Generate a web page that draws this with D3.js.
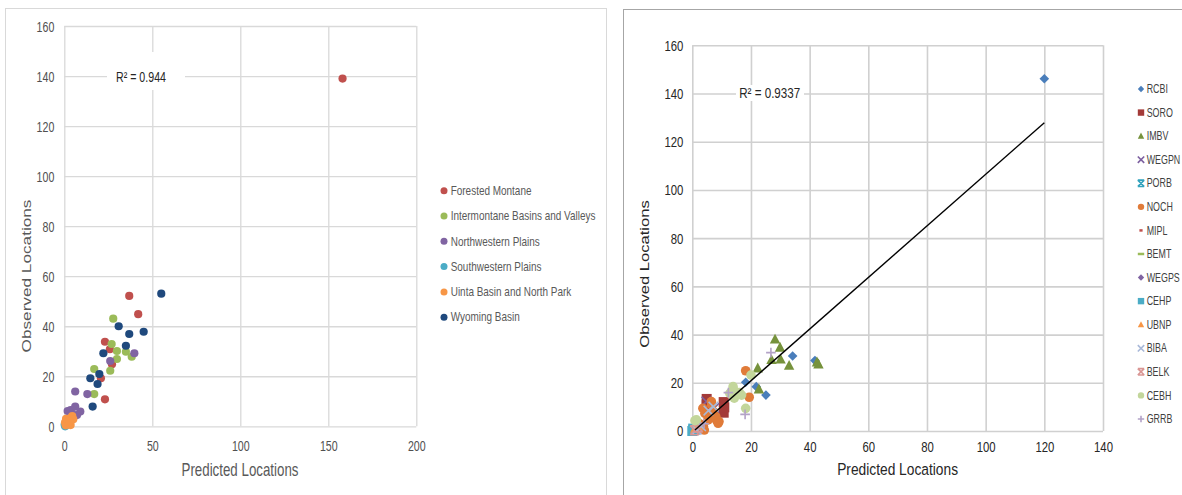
<!DOCTYPE html>
<html>
<head>
<meta charset="utf-8">
<script src="https://cdn.jsdelivr.net/npm/d3@7"></script>
<style>
  html, body { margin: 0; padding: 0; background: #fff; }
  svg { display: block; font-family: "Liberation Sans", Arial, sans-serif; }
</style>
</head>
<body>
<svg id="chart" width="1182" height="495"></svg>
<script>
// ---------------- LEFT CHART DATA ----------------
const leftXTicks = [0, 50, 100, 150, 200];
const leftYTicks = [0, 20, 40, 60, 80, 100, 120, 140, 160];
const leftSeriesNames = ["Forested Montane", "Intermontane Basins and Valleys", "Northwestern Plains",
                         "Southwestern Plains", "Uinta Basin and North Park", "Wyoming Basin"];
const leftColors = ["#c0504d", "#9bbb59", "#8064a2", "#4bacc6", "#f79646", "#1f497d"];
const forestedX = [158.1, 36.9, 42.0, 23.1, 25.9, 27.1, 20.8, 23.1, 2.0, 1.0];
const forestedY = [139.0, 52.1, 44.8, 33.8, 30.8, 24.8, 19.2, 10.8, 1.5, 0.5];
const intermontaneX = [27.8, 26.9, 29.9, 35.0, 29.9, 38.3, 26.1, 17.0, 17.0, 1.5];
const intermontaneY = [43.0, 32.9, 30.1, 29.8, 26.9, 27.8, 22.2, 22.9, 12.9, 1.0];
const northwesternX = [39.8, 26.1, 6.2, 13.1, 1.9, 6.2, 9.1, 7.2, 3.6, 4.5];
const northwesternY = [29.2, 26.1, 13.9, 12.9, 6.1, 7.9, 5.9, 4.5, 6.5, 5.0];
const southwesternX = [0.5, 0.2];
const southwesternY = [0.0, 0.6];
const uintaX = [4.5, 3.2, 1.3, 0.4, 2.3, 3.6, 0.8, 5.1, 1.0, 2.8];
const uintaY = [4.1, 3.2, 2.3, 1.5, 1.2, 0.5, 0.4, 2.8, 3.0, 2.0];
const wyomingX = [55.1, 30.9, 36.9, 45.1, 35.0, 22.2, 19.9, 14.8, 18.9, 16.1];
const wyomingY = [53.0, 40.0, 36.9, 37.8, 32.2, 29.2, 20.9, 19.2, 16.9, 7.9];
const leftSeriesX = [forestedX, intermontaneX, northwesternX, southwesternX, uintaX, wyomingX];
const leftSeriesY = [forestedY, intermontaneY, northwesternY, southwesternY, uintaY, wyomingY];
const leftR2 = "R\u00b2 = 0.944";

// ---------------- RIGHT CHART DATA ----------------
const rightXTicks = [0, 20, 40, 60, 80, 100, 120, 140];
const rightYTicks = [0, 20, 40, 60, 80, 100, 120, 140, 160];
const rightSeriesNames = ["RCBI", "SORO", "IMBV", "WEGPN", "PORB", "NOCH", "MIPL", "BEMT",
                          "WEGPS", "CEHP", "UBNP", "BIBA", "BELK", "CEBH", "GRRB"];
const rightShapes = ["diamond", "square", "triangle", "x", "star", "circle", "shortdash", "dash",
                     "diamond", "square", "triangle", "x", "star", "circle", "plus"];
const rightColors = ["#4a7ebb", "#a33a38", "#76923c", "#7d60a0", "#31a2bd", "#e07b39", "#c0504d", "#9bbb59",
                     "#8064a2", "#4bacc6", "#f79646", "#a9b9d9", "#d99694", "#c3d69b", "#b3a2c7"];
const rcbiX = [120, 34.2, 41.8, 18.2, 21.8, 25.1, 2.0, 1.0];
const rcbiY = [146.1, 31.1, 29.2, 20.2, 18.4, 14.9, 1.0, 0.0];
const soroX = [4.9, 4.9, 10.7, 10.7, 10.9];
const soroY = [13.3, 11.0, 12.0, 7.6, 9.8];
const imbvX = [28.2, 29.9, 27.0, 30.1, 33.0, 43.0, 22.3, 22.7, 42.5];
const imbvY = [38.0, 34.6, 29.5, 29.7, 27.1, 27.7, 26.0, 17.3, 28.5];
const wegpnX = [4.8, 7.5, 2.5];
const wegpnY = [12.2, 9.5, 1.5];
const porbX = [0.2, 1.0];
const porbY = [0.3, 0.6];
const nochX = [18.2, 19.4, 9.1, 4.3, 3.8, 5.5, 7.2, 6.6, 4.1, 2.5, 8.0, 3.6, 6.5, 7.1, 5.4, 8.2, 8.8, 1.4];
const nochY = [25.0, 14.0, 3.9, 7.3, 1.8, 5.3, 8.0, 10.8, 0.4, 3.0, 6.0, 9.4, 12.2, 7.3, 4.6, 4.6, 3.2, 1.8];
const miplX = [3.0];
const miplY = [2.0];
const bemtX = [2.0];
const bemtY = [1.0];
const wegpsX = [0.5, 1.5];
const wegpsY = [0.5, 0.0];
const cehpX = [0.0, 0.3];
const cehpY = [0.0, 1.0];
const ubnpX = [1.0, 2.5];
const ubnpY = [1.0, 2.0];
const bibaX = [7.2, 3.0, 1.5, 5.5];
const bibaY = [10.1, 2.0, 0.5, 8.5];
const belkX = [0.8, 2.0];
const belkY = [0.3, 1.5];
const cebhX = [14.0, 14.3, 16.8, 18.2, 20.0, 12.8, 0.9, 13.5, 16.0, 1.4, 13.9];
const cebhY = [17.3, 13.6, 14.9, 9.4, 23.2, 15.6, 4.3, 16.5, 16.0, 4.6, 18.4];
const grrbX = [26.8, 12.3, 18.0, 4.0];
const grrbY = [32.5, 15.9, 6.9, 3.0];
const rightSeriesX = [rcbiX, soroX, imbvX, wegpnX, porbX, nochX, miplX, bemtX, wegpsX, cehpX, ubnpX, bibaX, belkX, cebhX, grrbX];
const rightSeriesY = [rcbiY, soroY, imbvY, wegpnY, porbY, nochY, miplY, bemtY, wegpsY, cehpY, ubnpY, bibaY, belkY, cebhY, grrbY];
const trendX = [0.9, 120];
const trendY = [0.4, 127.9];
const rightR2 = "R\u00b2 = 0.9337";

// ---------------- DRAWING ----------------
const svg = d3.select("#chart");
svg.append("rect").attr("width", 1182).attr("height", 495).attr("fill", "#fff");

// panel frames
svg.append("rect").attr("x", 5.5).attr("y", 8.5).attr("width", 601).attr("height", 500)
  .attr("fill", "none").attr("stroke", "#d9d9d9").attr("stroke-width", 1);
svg.append("rect").attr("x", 623.5).attr("y", 9.5).attr("width", 570).attr("height", 500)
  .attr("fill", "none").attr("stroke", "#a6a6a6").attr("stroke-width", 1);

function ctext(g, x, y, str, o) {
  const t = g.append("text")
    .attr("transform", `translate(${x},${y})` + (o.rotate ? " rotate(-90) scale(1," + o.sx + ")" : " scale(" + o.sx + ",1)"))
    .attr("text-anchor", o.anchor || "middle")
    .attr("dy", "0.35em")
    .attr("font-size", o.size)
    .attr("fill", o.fill)
    .text(str);
  return t;
}

// ---- left chart ----
const xL = d3.scaleLinear().domain([0, 200]).range([64.3, 416.3]);
const yL = d3.scaleLinear().domain([0, 160]).range([426.3, 26]);
const gL = svg.append("g");
const sL = 0.71;

const axL_x = gL.append("g").attr("transform", `translate(0,${yL(0)})`)
  .call(d3.axisBottom(xL).tickValues(leftXTicks).tickSizeInner(-(yL(0) - yL(160))).tickSizeOuter(0).tickPadding(14.3));
const axL_y = gL.append("g").attr("transform", `translate(${xL(0)},0)`)
  .call(d3.axisLeft(yL).tickValues(leftYTicks).tickSizeInner(-(xL(200) - xL(0))).tickSizeOuter(0).tickPadding(10 / sL));
[axL_x, axL_y].forEach(a => {
  a.select(".domain").remove();
  a.selectAll("line").attr("stroke", "#d9d9d9").attr("stroke-width", 1.3);
  a.selectAll("text").attr("font-size", 15).attr("fill", "#505050")
    .attr("font-family", "'Liberation Sans', Arial, sans-serif").attr("transform", `scale(${sL},1)`);
});
axL_y.selectAll("text").attr("dy", "0.35em");

// R2 label left
gL.append("rect").attr("x", 107).attr("y", 52).attr("width", 78).attr("height", 38).attr("fill", "#fff");
ctext(gL, 141, 77, leftR2, { size: 15, sx: 0.71, fill: "#262626" });

// points left
leftSeriesX.forEach((xs, i) => {
  const pts = xs.map((x, j) => [x, leftSeriesY[i][j]]);
  gL.append("g").selectAll("circle").data(pts).join("circle")
    .attr("cx", d => xL(d[0])).attr("cy", d => yL(d[1])).attr("r", 4.1)
    .attr("fill", leftColors[i]);
});

// axis titles left
ctext(gL, 240, 470, "Predicted Locations", { size: 18, sx: 0.74, fill: "#595959" });
ctext(gL, 27, 276, "Observed Locations", { size: 17.2, sx: 0.74, fill: "#595959", rotate: true });

// legend left
const legL = gL.append("g");
leftSeriesNames.forEach((name, i) => {
  const y = 190.7 + i * 25.3;
  legL.append("circle").attr("cx", 444).attr("cy", y).attr("r", 3.5).attr("fill", leftColors[i]);
  ctext(legL, 450.7, y, name, { size: 12, sx: 0.83, fill: "#595959", anchor: "start" });
});

// ---- right chart ----
const xR = d3.scaleLinear().domain([0, 140]).range([692.3, 1103]);
const yR = d3.scaleLinear().domain([0, 160]).range([431, 45.3]);
const gR = svg.append("g");
const sR = 0.81;

const axR_x = gR.append("g").attr("transform", `translate(0,${yR(0)})`)
  .call(d3.axisBottom(xR).tickValues(rightXTicks).tickSizeInner(-(yR(0) - yR(160))).tickSizeOuter(0).tickPadding(10.7));
const axR_y = gR.append("g").attr("transform", `translate(${xR(0)},0)`)
  .call(d3.axisLeft(yR).tickValues(rightYTicks).tickSizeInner(-(xR(140) - xR(0))).tickSizeOuter(0).tickPadding(9 / sR));
[axR_x, axR_y].forEach(a => {
  a.select(".domain").remove();
  a.selectAll("line").attr("stroke", "#d0d0d0").attr("stroke-width", 1.6);
  a.selectAll("text").attr("font-size", 14).attr("fill", "#262626")
    .attr("font-family", "'Liberation Sans', Arial, sans-serif").attr("transform", `scale(${sR},1)`);
});
axR_y.selectAll("text").attr("dy", "0.35em");

// R2 label right
gR.append("rect").attr("x", 736).attr("y", 85).attr("width", 68).attr("height", 16).attr("fill", "#fff");
ctext(gR, 769.7, 93, rightR2, { size: 14, sx: 0.83, fill: "#262626" });

// marker path generator
function markerPath(shape, r) {
  switch (shape) {
    case "diamond": return `M0,${-r}L${r},0L0,${r}L${-r},0Z`;
    case "square": return `M${-r},${-r}H${r}V${r}H${-r}Z`;
    case "triangle": return `M0,${-r * 1.1}L${r},${r * 0.8}L${-r},${r * 0.8}Z`;
    case "circle": return d3.symbol(d3.symbolCircle, Math.PI * r * r)();
    case "x": return `M${-r},${-r}L${r},${r}M${r},${-r}L${-r},${r}`;
    case "star": return `M${-r},${-r}L${r},${r}M${r},${-r}L${-r},${r}M${-r},${-r}H${r}M${-r},${r}H${r}`;
    case "plus": return `M${-r},0H${r}M0,${-r}V${r}`;
    case "shortdash": return `M${-r * 0.5},0H${r * 0.5}`;
    case "dash": return `M${-r},0H${r}`;
  }
}
const strokeShapes = new Set(["x", "star", "plus", "shortdash", "dash"]);
function styleMarker(sel, shape, color) {
  if (strokeShapes.has(shape)) {
    sel.attr("fill", "none").attr("stroke", color).attr("stroke-width", shape.includes("dash") ? 2.5 : 1.6);
  } else {
    sel.attr("fill", color);
  }
}
const rightSizes = { diamond: 4.8, square: 5, triangle: 5.2, circle: 4.8, x: 4.8, star: 4.5, plus: 4.8, shortdash: 4, dash: 4 };

// points right
rightSeriesX.forEach((xs, i) => {
  const pts = xs.map((x, j) => [x, rightSeriesY[i][j]]);
  const shape = rightShapes[i];
  const sel = gR.append("g").selectAll("path").data(pts).join("path")
    .attr("transform", d => `translate(${xR(d[0])},${yR(d[1])})`)
    .attr("d", markerPath(shape, rightSizes[shape]));
  styleMarker(sel, shape, rightColors[i]);
});

// trend line
gR.append("path")
  .attr("d", d3.line().x(d => xR(d[0])).y(d => yR(d[1]))(trendX.map((x, i) => [x, trendY[i]])))
  .attr("stroke", "#000").attr("stroke-width", 1.4).attr("fill", "none");

// axis titles right
ctext(gR, 897.6, 469.3, "Predicted Locations", { size: 16.5, sx: 0.835, fill: "#262626" });
ctext(gR, 644, 274, "Observed Locations", { size: 16.6, sx: 0.8, fill: "#262626", rotate: true });

// legend right
const legR = gR.append("g");
rightSeriesNames.forEach((name, i) => {
  const y = 89 + i * 23.57;
  const shape = rightShapes[i];
  const m = legR.append("path").attr("transform", `translate(1141,${y})`).attr("d", markerPath(shape, 3.2));
  styleMarker(m, shape, rightColors[i]);
  ctext(legR, 1146.7, y, name, { size: 12, sx: 0.74, fill: "#404040", anchor: "start" });
});
</script>
</body>
</html>
